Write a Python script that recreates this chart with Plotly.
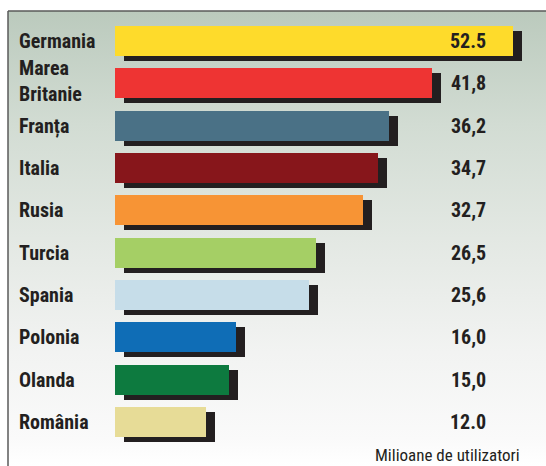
import plotly.graph_objects as go

countries = ["Germania", "Marea Britanie", "Franța", "Italia", "Rusia",
             "Turcia", "Spania", "Polonia", "Olanda", "România"]
values = [52.5, 41.8, 36.2, 34.7, 32.7, 26.5, 25.6, 16.0, 15.0, 12.0]
value_labels = ["52.5", "41,8", "36,2", "34,7", "32,7", "26,5", "25,6", "16,0", "15,0", "12.0"]
bar_colors = ["#fedb2b", "#ee3433", "#4a7186", "#87161b", "#f79435",
              "#a5cf65", "#c6dde9", "#0f6db6", "#0d7a3f", "#e7dc97"]
unit_label = "Milioane de utilizatori"

W, H = 546, 466
PX_PER_UNIT = 7.58
X0_PX = 115
STEP_PX = 42.33
FIRST_CENTER_PX = 41
BAR_PX = 30
SHADOW_DX, SHADOW_DY = 9, 5

bar_w = BAR_PX / STEP_PX
shadow_base = SHADOW_DX / PX_PER_UNIT
shadow_off = SHADOW_DY / STEP_PX

FONT = "Roboto Condensed, Open Sans Condensed, DejaVu Sans Condensed, sans-serif"
TXT = "#231f20"

fig = go.Figure()

# gradient background panel (on auxiliary axes x/y in [0,1])
top = 1 - 11 / H
left = 8 / W
fig.add_trace(go.Scatter(
    x=[left, 1, 1, left, left], y=[0, 0, top, top, 0],
    mode="lines", line=dict(width=0), fill="toself",
    fillgradient=dict(type="vertical", start=0, stop=top,
                      colorscale=[[0, "#ffffff"], [0.06, "#fafafa"],
                                  [0.25, "#f2f3f2"], [0.5, "#e3e8e3"],
                                  [0.75, "#d2dcd3"], [1, "#bbcabd"]]),
    hoverinfo="skip", showlegend=False, xaxis="x", yaxis="y"))

# shadows
fig.add_trace(go.Bar(
    y=countries, x=values, base=shadow_base, orientation="h",
    width=bar_w, offset=-bar_w / 2 + shadow_off,
    marker=dict(color="#231f20", line=dict(width=0)),
    hoverinfo="skip", showlegend=False, xaxis="x2", yaxis="y2"))
# bars
fig.add_trace(go.Bar(
    y=countries, x=values, orientation="h",
    width=bar_w, offset=-bar_w / 2,
    marker=dict(color=bar_colors, line=dict(width=0)),
    showlegend=False, xaxis="x2", yaxis="y2"))

for c, v in zip(countries, value_labels):
    multi = " " in c
    fig.add_annotation(x=17 / W, xref="paper", xanchor="left",
                       y=c, yref="y2", yanchor="middle", yshift=2 if multi else 0,
                       text=c.replace(" ", "<br>"), showarrow=False, align="left",
                       font=dict(family=FONT, size=20, color=TXT, weight="bold"))
    fig.add_annotation(x=488 / W, xref="paper", xanchor="right",
                       y=c, yref="y2", yanchor="middle",
                       text=v, showarrow=False,
                       font=dict(family=FONT, size=20, color=TXT, weight="bold"))

fig.add_annotation(x=522 / W, xref="paper", xanchor="right",
                   y=1 - 455 / H, yref="paper", yanchor="middle",
                   text=unit_label, showarrow=False,
                   font=dict(family=FONT, size=17, color=TXT))

# frame lines
fig.add_shape(type="line", xref="paper", yref="paper",
              x0=left, x1=1, y0=top, y1=top, line=dict(color="#5a5a5a", width=1.5))
fig.add_shape(type="line", xref="paper", yref="paper",
              x0=left, x1=left, y0=0, y1=top, line=dict(color="#5a5a5a", width=1.5))

y_top = -FIRST_CENTER_PX / STEP_PX
y_bot = (H - FIRST_CENTER_PX) / STEP_PX
fig.update_layout(
    width=W, height=H, margin=dict(l=0, r=0, t=0, b=0),
    paper_bgcolor="white", plot_bgcolor="rgba(0,0,0,0)",
    barmode="overlay", bargap=0,
    xaxis=dict(range=[0, 1], domain=[0, 1], visible=False, fixedrange=True),
    yaxis=dict(range=[0, 1], domain=[0, 1], visible=False, fixedrange=True),
    xaxis2=dict(range=[-X0_PX / PX_PER_UNIT, (W - X0_PX) / PX_PER_UNIT],
                overlaying="x", visible=False, fixedrange=True),
    yaxis2=dict(type="category", categoryorder="array", categoryarray=countries,
                range=[y_bot, y_top], overlaying="y", visible=False, fixedrange=True),
)

fig.write_html("out.html", config={"displayModeBar": False},
               post_script="document.body.style.margin='0';document.body.style.overflow='hidden';")
